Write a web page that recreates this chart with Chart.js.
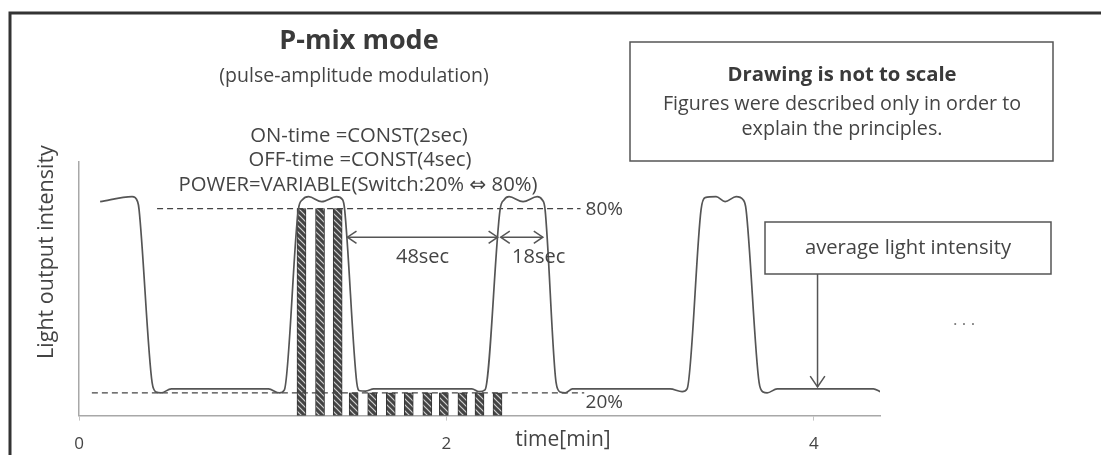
<!DOCTYPE html>
<html>
<head>
<meta charset="utf-8">
<script src="https://cdn.jsdelivr.net/npm/chart.js@4/dist/chart.umd.min.js"></script>
<style>
  html, body { margin: 0; padding: 0; background: #fff; }
</style>
</head>
<body>
<canvas id="myChart" width="1101" height="455"></canvas>
<script>
// light output waveform : time [min] / intensity [%]
const waveTime = [0.115, 0.289, 0.319, 0.327, 0.398, 0.420, 0.447, 0.502, 1.031, 1.091, 1.118,
  1.194, 1.216, 1.250, 1.321, 1.402, 1.435, 1.446, 1.512, 1.528, 1.560, 1.604, 2.139, 2.177, 2.210,
  2.292, 2.314, 2.341, 2.417, 2.494, 2.521, 2.537, 2.597, 2.619, 2.647, 2.686, 3.217, 3.283, 3.310,
  3.386, 3.408, 3.468, 3.517, 3.577, 3.615, 3.631, 3.702, 3.724, 3.746, 3.800, 4.324, 4.362];
const waveLevel = [82.3, 83.9, 82.3, 79.7, 23.3, 20.3, 20.0, 21.3, 21.3, 20.0, 21.0,
  79.7, 82.9, 83.9, 82.3, 83.9, 82.9, 79.7, 23.3, 20.7, 20.6, 21.3, 21.3, 20.4, 21.0,
  79.7, 82.9, 83.9, 82.3, 83.9, 82.9, 79.7, 23.3, 20.3, 20.0, 21.3, 21.3, 20.4, 21.3,
  79.7, 83.6, 83.9, 82.3, 83.9, 82.9, 79.7, 23.3, 20.3, 20.0, 21.3, 21.3, 20.4];

// switched power pulses (ON 2sec / OFF 4sec)
const pulseTime = [1.211, 1.312, 1.408, 1.495, 1.596, 1.697, 1.795, 1.896, 1.986, 2.087, 2.180, 2.278];
const pulsePower = [80, 80, 80, 20, 20, 20, 20, 20, 20, 20, 20, 20];

// dashed reference levels
const levelHigh = 80;
const levelLow = 20;
const highSpan = [0.425, 2.73];
const lowSpan = [0.07, 2.75];

const xTicks = [0, 2, 4];
const X_MAX = 4.36;
const Y_MIN = 12.6;
const Y_MAX = 95.2;

const FONT = '"Open Sans", "DejaVu Sans", sans-serif';
const TXT = '#444';
const LINE = '#555';

function hatch() {
  const c = document.createElement('canvas');
  c.width = 6; c.height = 6;
  const g = c.getContext('2d');
  g.fillStyle = '#444';
  g.fillRect(0, 0, 6, 6);
  g.strokeStyle = '#d0d0d0';
  g.lineWidth = 1.2;
  g.beginPath();
  g.moveTo(0, 0); g.lineTo(6, 6);
  g.moveTo(-3, 3); g.lineTo(3, 9);
  g.moveTo(3, -3); g.lineTo(9, 3);
  g.stroke();
  return g.createPattern(c, 'repeat');
}

function text(ctx, s, x, y, size, opt) {
  opt = opt || {};
  ctx.save();
  ctx.font = (opt.bold ? 'bold ' : '') + size + 'px ' + FONT;
  ctx.fillStyle = opt.color || TXT;
  ctx.textAlign = opt.align || 'center';
  ctx.textBaseline = 'middle';
  if (opt.rot) {
    ctx.translate(x, y);
    ctx.rotate(opt.rot);
    ctx.fillText(s, 0, 0);
  } else {
    ctx.fillText(s, x, y);
  }
  ctx.restore();
}

function head(ctx, x, y, ang, size) {
  ctx.beginPath();
  ctx.moveTo(x + size * Math.cos(ang + 0.6), y + size * Math.sin(ang + 0.6));
  ctx.lineTo(x, y);
  ctx.lineTo(x + size * Math.cos(ang - 0.6), y + size * Math.sin(ang - 0.6));
  ctx.stroke();
}

function hArrow(ctx, x1, x2, y) {
  ctx.beginPath();
  ctx.moveTo(x1, y); ctx.lineTo(x2, y);
  ctx.stroke();
  head(ctx, x1, y, 0, 11);
  head(ctx, x2, y, Math.PI, 11);
}

const notes = {
  id: 'notes',
  afterDraw(chart) {
    const ctx = chart.ctx;
    const xs = chart.scales.x, ys = chart.scales.y;

    // frame
    ctx.save();
    ctx.strokeStyle = '#333';
    ctx.lineWidth = 3;
    ctx.beginPath();
    ctx.moveTo(10, 460); ctx.lineTo(10, 13); ctx.lineTo(1101, 13);
    ctx.stroke();
    ctx.restore();

    // headings
    text(ctx, 'P-mix mode', 359, 41, 27, {bold: true, color: '#3a3a3a'});
    text(ctx, '(pulse-amplitude modulation)', 354, 76, 19.5);
    text(ctx, 'ON-time =CONST(2sec)', 359, 136, 20.3);
    text(ctx, 'OFF-time =CONST(4sec)', 360, 160, 20.3);
    text(ctx, 'POWER=VARIABLE(Switch:20% \u21D4 80%)', 358, 185, 20.3);

    ctx.save();
    ctx.strokeStyle = LINE;
    ctx.lineWidth = 1.5;

    // note box
    ctx.strokeRect(630, 42, 423, 119);
    text(ctx, 'Drawing is not to scale', 842, 75, 20.3, {bold: true, color: '#3a3a3a'});
    text(ctx, 'Figures were described only in order to', 842, 104, 19.7);
    text(ctx, 'explain the principles.', 842, 129, 19.7);

    // average box + arrow
    ctx.strokeRect(765, 222, 286, 52);
    text(ctx, 'average light intensity', 908, 248, 20.2);
    const ax = xs.getPixelForValue(4.02);
    const ay = ys.getPixelForValue(waveLevel[waveLevel.length - 2]) - 2;
    ctx.beginPath();
    ctx.moveTo(ax, 274); ctx.lineTo(ax, ay);
    ctx.stroke();
    head(ctx, ax, ay, -Math.PI / 2, 13);

    // time spans
    const yArr = ys.getPixelForValue(70.7);
    const p1 = xs.getPixelForValue(1.461), p2 = xs.getPixelForValue(2.279), p3 = xs.getPixelForValue(2.525);
    hArrow(ctx, p1, p2, yArr);
    hArrow(ctx, p2 + 3, p3, yArr);
    ctx.restore();
    text(ctx, '48sec', (p1 + p2) / 2, yArr + 20, 20);
    text(ctx, '18sec', p2 + 41, yArr + 20, 20);

    // level labels
    const lx = xs.getPixelForValue(highSpan[1]) + 5;
    text(ctx, '80%', lx, ys.getPixelForValue(levelHigh) + 1, 19, {align: 'left'});
    text(ctx, '20%', lx, ys.getPixelForValue(levelLow) + 10, 19, {align: 'left'});

    text(ctx, '. . .', 964, 320, 17, {color: '#777'});
    text(ctx, 'time[min]', 563, 440, 21);
    text(ctx, 'Light output intensity', 47, 252, 21.5, {rot: -Math.PI / 2});
  }
};

const data = {
  datasets: [
    {
      type: 'line',
      data: waveTime.map((t, i) => ({x: t, y: waveLevel[i]})),
      borderColor: LINE,
      borderWidth: 1.7,
      pointRadius: 0,
      cubicInterpolationMode: 'monotone',
      order: 0
    },
    {
      type: 'line',
      data: highSpan.map(t => ({x: t, y: levelHigh})),
      borderColor: '#444',
      borderWidth: 1.4,
      borderDash: [6, 4],
      pointRadius: 0,
      order: 1
    },
    {
      type: 'line',
      data: lowSpan.map(t => ({x: t, y: levelLow})),
      borderColor: '#444',
      borderWidth: 1.4,
      borderDash: [6, 4],
      pointRadius: 0,
      order: 1
    },
    {
      type: 'bar',
      data: pulseTime.map((t, i) => ({x: t, y: [Y_MIN, pulsePower[i]]})),
      backgroundColor: hatch(),
      borderColor: '#333',
      borderWidth: 1,
      borderSkipped: false,
      barThickness: 9,
      order: 2
    }
  ]
};

const config = {
  type: 'bar',
  data: data,
  options: {
    responsive: false,
    animation: false,
    layout: { padding: { left: 79, right: 221, top: 162, bottom: -12 } },
    plugins: {
      legend: { display: false },
      tooltip: { enabled: false }
    },
    scales: {
      x: {
        type: 'linear',
        min: 0,
        max: X_MAX,
        offset: false,
        afterBuildTicks: (axis) => { axis.ticks = xTicks.map(v => ({value: v})); },
        ticks: { color: TXT, font: { family: FONT, size: 17 }, padding: 13 },
        grid: { display: true, drawOnChartArea: false, offset: false, tickLength: 5, color: '#c4c4c4' },
        border: { color: '#a8a8a8', width: 1.5 }
      },
      y: {
        min: Y_MIN,
        max: Y_MAX,
        ticks: { display: false },
        grid: { display: false, drawTicks: false },
        border: { color: '#a8a8a8', width: 1.5 }
      }
    }
  },
  plugins: [notes]
};

const myChart = new Chart(document.getElementById('myChart'), config);
</script>
</body>
</html>
